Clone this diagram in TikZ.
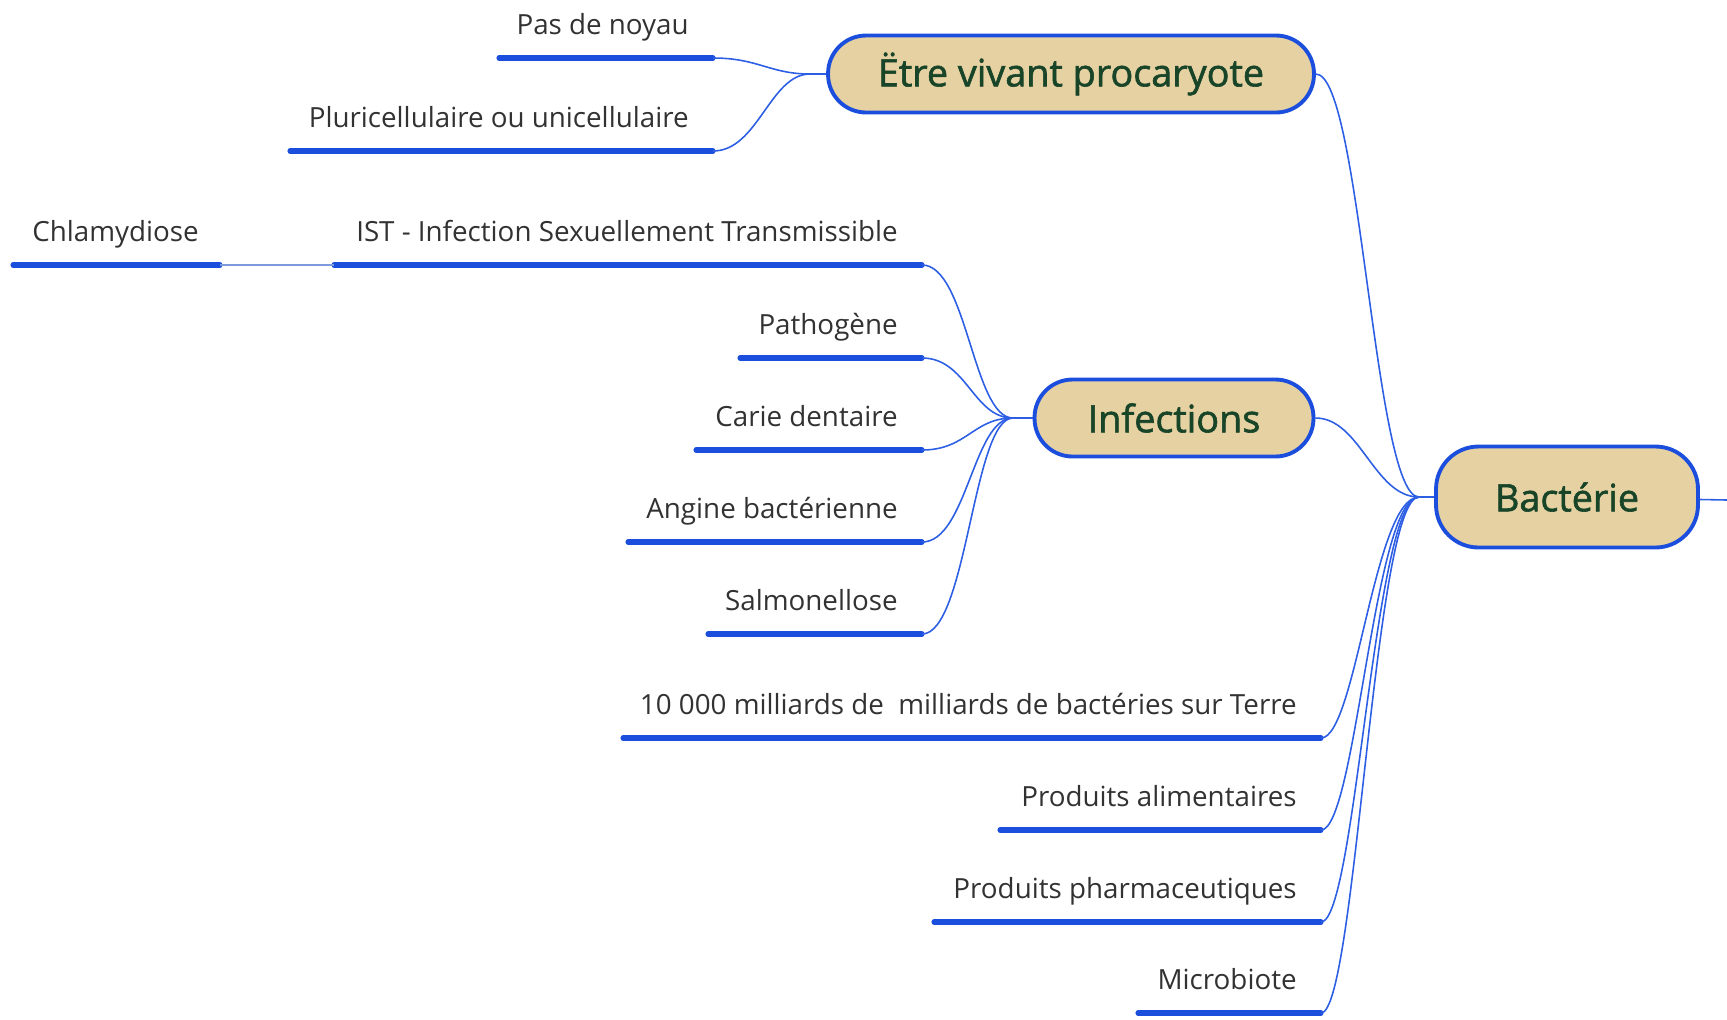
\documentclass[tikz,border=0pt]{standalone}
\usepackage{fontspec}
\setmainfont{Open Sans}
\newfontfamily\ideefont[BoldFont={Open Sans}, BoldFeatures={FakeBold=1.6}]{Open Sans}
\usepackage{tikz}
\usetikzlibrary{calc}
\definecolor{bleu}{RGB}{28,78,222}
\definecolor{bleulien}{RGB}{45,95,228}
\definecolor{bleupale}{RGB}{125,155,220}
\definecolor{sable}{RGB}{230,209,163}
\definecolor{vertfonce}{RGB}{24,68,40}
\definecolor{gris}{RGB}{50,50,50}
\tikzset{
  idee/.style={draw=bleu, line width=2.2pt, fill=sable, text=vertfonce,
    font=\ideefont\bfseries\fontsize{21.5}{25}\selectfont, inner sep=0pt},
  feuille/.style={font=\fontsize{15.8}{19}\selectfont, text=gris, inner sep=0pt},
  trait/.style={draw=bleu, line width=2.9pt, line cap=round},
  lien/.style={draw=bleulien, line width=0.9pt},
}

\begin{document}
\begin{tikzpicture}[x=0.02cm, y=-0.02cm]
    \useasboundingbox (0,0) rectangle (1727,1019);

    % Idees principales
    \node[idee, minimum width=9.72cm, minimum height=1.54cm, rounded corners=0.76cm] (etre) at (1071,74) {Ëtre vivant procaryote};
    \node[idee, minimum width=5.58cm, minimum height=1.54cm, rounded corners=0.76cm] (infect) at (1174,418) {Infections};
    \node[idee, minimum width=5.24cm, minimum height=2.02cm, rounded corners=0.85cm] (bact) at (1567,497) {Bactérie};

    % Points de jonction
    \coordinate (etre-j) at (810,74);
    \coordinate (infect-j) at (1013,418);
    \coordinate (bact-j) at (1419,497);
    \coordinate (suite) at (1727,500);

    % Feuilles de Ëtre vivant procaryote
    \node[feuille, anchor=base east] (noyau) at (689,34) {Pas de noyau};
    \draw[trait] (499,58) coordinate (noyau-g) -- (713,58) coordinate (noyau-d);
    \node[feuille, anchor=base east] (pluri) at (689,127) {Pluricellulaire ou unicellulaire};
    \draw[trait] (290,151) coordinate (pluri-g) -- (713,151) coordinate (pluri-d);

    % Feuilles de Infections
    \node[feuille, anchor=base east] (ist) at (898,241) {IST - Infection Sexuellement Transmissible};
    \draw[trait] (334,265) coordinate (ist-g) -- (922,265) coordinate (ist-d);
    \node[feuille, anchor=base west] (chlam) at (32,241) {Chlamydiose};
    \draw[trait] (13,265) coordinate (chlam-g) -- (220,265) coordinate (chlam-d);
    \node[feuille, anchor=base east] (patho) at (898,334) {Pathogène};
    \draw[trait] (740,358) coordinate (patho-g) -- (922,358) coordinate (patho-d);
    \node[feuille, anchor=base east] (carie) at (898,426) {Carie dentaire};
    \draw[trait] (696,450) coordinate (carie-g) -- (922,450) coordinate (carie-d);
    \node[feuille, anchor=base east] (angine) at (898,518) {Angine bactérienne};
    \draw[trait] (628,542) coordinate (angine-g) -- (922,542) coordinate (angine-d);
    \node[feuille, anchor=base east] (salmo) at (898,610) {Salmonellose};
    \draw[trait] (708,634) coordinate (salmo-g) -- (922,634) coordinate (salmo-d);

    % Feuilles de Bactérie
    \node[feuille, anchor=base east] (terre) at (1297,714) {10 000 milliards de\ \ milliards de bactéries sur Terre};
    \draw[trait] (623,738) coordinate (terre-g) -- (1321,738) coordinate (terre-d);
    \node[feuille, anchor=base east] (alim) at (1297,806) {Produits alimentaires};
    \draw[trait] (1000,830) coordinate (alim-g) -- (1321,830) coordinate (alim-d);
    \node[feuille, anchor=base east] (pharma) at (1297,898) {Produits pharmaceutiques};
    \draw[trait] (934,922) coordinate (pharma-g) -- (1321,922) coordinate (pharma-d);
    \node[feuille, anchor=base east] (micro) at (1297,989) {Microbiote};
    \draw[trait] (1138,1013) coordinate (micro-g) -- (1321,1013) coordinate (micro-d);

    % Liens
    \foreach \f in {noyau,pluri}
        \draw[lien] (\f-d) .. controls +(45,0) and +(-40,0) .. (etre-j) -- (etre);
    \foreach \f in {ist,patho,carie,angine,salmo}
        \draw[lien] (\f-d) .. controls +(45,0) and +(-40,0) .. (infect-j) -- (infect);
    \foreach \f in {terre,alim,pharma,micro}
        \draw[lien] (\f-d) .. controls +(35,0) and +(-45,0) .. (bact-j);
    \draw[lien] (etre.east) .. controls +(45,0) and +(-45,0) .. (bact-j);
    \draw[lien] (infect.east) .. controls +(45,0) and +(-45,0) .. (bact-j);
    \draw[lien] (bact-j) -- (bact);
    \draw[lien] (bact) -- (suite);
    \draw[lien, draw=bleupale] (chlam-d) -- (ist-g);
\end{tikzpicture}
\end{document}
